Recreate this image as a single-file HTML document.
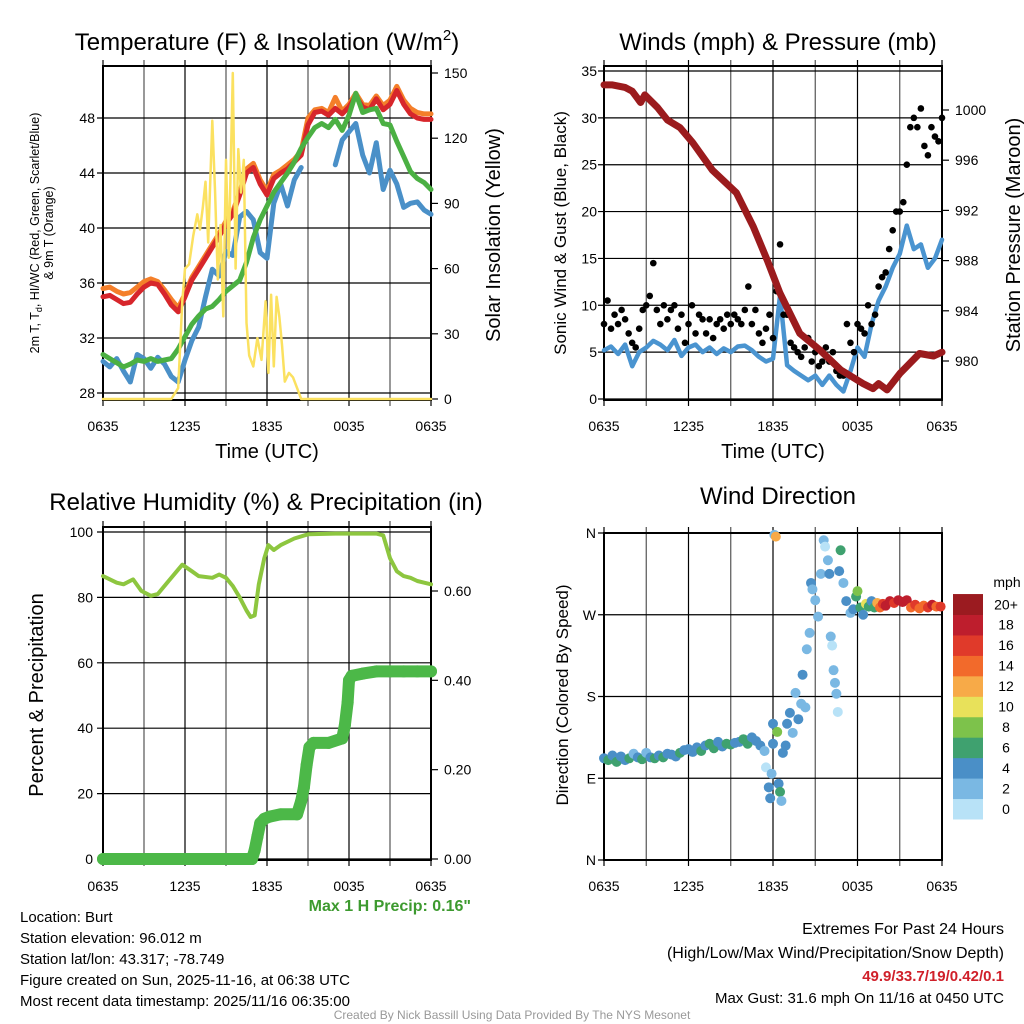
<!DOCTYPE html>
<html><head><meta charset="utf-8"><style>
body{margin:0;background:#fff}
svg{display:block;font-family:"Liberation Sans",sans-serif}
</style></head><body>
<svg id="fig" width="1024" height="1024" viewBox="0 0 1024 1024">
<g id="g1"></g>
<g id="g2"></g>
<g id="g3"></g>
<g id="g4"></g>
<g font-size="24" text-anchor="middle">
<text x="267" y="50">Temperature (F) &amp; Insolation (W/m<tspan font-size="15" dy="-10">2</tspan><tspan dy="10">)</tspan></text>
<text x="778" y="50">Winds (mph) &amp; Pressure (mb)</text>
<text x="266" y="510">Relative Humidity (%) &amp; Precipitation (in)</text>
<text x="778" y="504">Wind Direction</text>
</g>
<g font-size="20" text-anchor="middle">
<text x="267" y="458">Time (UTC)</text>
<text x="773" y="458">Time (UTC)</text>
<text transform="translate(500,235) rotate(-90)">Solar Insolation (Yellow)</text>
<text transform="translate(1020,235) rotate(-90)">Station Pressure (Maroon)</text>
<text transform="translate(43,695) rotate(-90)">Percent &amp; Precipitation</text>
</g>
<g font-size="17" text-anchor="middle">
<text transform="translate(566,233) rotate(-90)">Sonic Wind &amp; Gust (Blue, Black)</text>
<text transform="translate(568,695) rotate(-90)">Direction (Colored By Speed)</text>
</g>
<g font-size="12.5" text-anchor="middle">
<text transform="translate(39,233) rotate(-90)">2m T, T<tspan font-size="9" dy="3">d</tspan><tspan dy="-3">, HI/WC (Red, Green, Scarlet/Blue)</tspan></text>
<text transform="translate(53,233) rotate(-90)">&amp; 9m T (Orange)</text>
</g>
<text x="471" y="911" font-size="16" font-weight="bold" fill="#3d9a2f" text-anchor="end">Max 1 H Precip: 0.16"</text>
<g font-size="15">
<text x="20" y="922">Location: Burt</text>
<text x="20" y="943">Station elevation: 96.012 m</text>
<text x="20" y="964">Station lat/lon: 43.317; -78.749</text>
<text x="20" y="985">Figure created on Sun, 2025-11-16, at 06:38 UTC</text>
<text x="20" y="1006">Most recent data timestamp: 2025/11/16 06:35:00</text>
</g>
<g font-size="16" text-anchor="end">
<text x="1004" y="934">Extremes For Past 24 Hours</text>
<text x="1004" y="958">(High/Low/Max Wind/Precipitation/Snow Depth)</text>
<text x="1004" y="981" font-weight="bold" font-size="15" fill="#d0202a">49.9/33.7/19/0.42/0.1</text>
<text x="1004" y="1003" font-size="15">Max Gust: 31.6 mph On 11/16 at 0450 UTC</text>
</g>
<text x="512" y="1019" font-size="12" fill="#999" text-anchor="middle">Created By Nick Bassill Using Data Provided By The NYS Mesonet</text>
</svg>
<script>
const xTickLabels=["0635","1235","1835","0035","0635"];
const tRed=[35.0,35.1,34.8,34.5,34.6,35.2,35.7,36.0,35.9,35.2,34.4,33.9,35.0,36.2,37.0,37.8,38.6,39.4,40.3,41.0,42.4,44.0,44.4,43.2,42.4,43.6,44.0,44.3,44.8,45.3,47.5,48.4,48.5,48.2,48.7,48.3,48.8,49.6,48.8,48.6,49.4,48.6,49.0,50.0,49.0,48.3,48.0,47.9,47.9];
const tOrange=[35.6,35.7,35.4,35.2,35.3,35.7,36.1,36.3,36.1,35.5,34.8,34.2,35.2,36.4,37.2,38.0,38.8,39.6,40.5,41.2,42.6,44.3,44.7,43.5,42.7,43.9,44.2,44.6,45.0,45.6,48.0,48.6,48.7,48.4,49.5,48.5,49.0,49.8,49.0,48.9,49.6,48.9,49.3,50.3,49.3,48.7,48.4,48.3,48.3];
const tGreen=[30.8,30.5,30.2,29.9,30.1,30.4,30.3,30.5,30.3,30.4,30.5,31.2,32.1,33.0,33.6,34.1,34.3,34.8,35.4,35.8,36.2,37.5,39.3,40.6,41.6,42.6,43.3,44.0,44.8,45.8,46.6,47.3,47.6,47.3,47.9,47.1,48.2,49.8,48.4,48.6,48.7,47.6,47.5,46.3,45.2,44.1,43.6,43.3,42.8];
const tBlue=[30.3,29.9,30.5,29.6,28.8,30.8,30.5,29.8,30.6,30.1,29.2,28.8,30.4,31.8,32.8,35.0,37.0,36.5,38.3,38.0,40.8,41.2,40.6,38.2,37.8,41.8,43.2,41.6,43.5,44.4,null,null,null,null,44.6,46.4,47.0,47.6,45.3,44.0,46.2,42.8,44.2,43.2,41.5,41.8,41.9,41.3,41.0];
const solarHours=[0,5.0,5.5,5.8,6.0,6.3,6.6,6.9,7.1,7.3,7.5,7.7,8.0,8.2,8.4,8.6,8.8,9.0,9.2,9.5,9.7,9.9,10.1,10.3,10.5,10.7,11.0,11.3,11.6,11.9,12.1,12.3,12.5,12.7,12.9,13.1,13.3,13.6,13.9,14.2,14.5,24];
const solarVals=[0,0,5,45,60,62,75,85,78,88,100,72,128,95,55,80,38,110,65,150,60,115,95,110,35,20,15,28,18,45,12,48,15,47,38,25,8,12,10,5,0,0];
const windBlue=[5.2,5.6,4.8,5.8,3.5,5.0,5.5,6.2,5.8,5.2,6.3,4.6,5.5,5.8,5.0,5.5,4.8,5.4,5.0,5.6,5.7,5.2,4.5,4.0,4.3,11.0,3.6,3.0,2.5,2.0,2.5,1.5,2.5,1.5,0.8,3.0,5.5,4.5,8.0,10.5,12.0,14.0,15.5,18.5,16.0,16.5,14.0,15.0,17.0];
const gustVals=[8,10.5,7.5,9,8,9.5,8.5,7,6,5.5,7.5,9.5,10,11,14.5,9.5,8,10,8.5,9.5,10,7.5,9,6,8,10,7,9,8.5,7,8.5,6.5,8,8.5,7.5,9,8,9,8.5,8,9.5,12,8,9.5,7,6,7.5,9,6.5,11.5,16.5,9,9,6,5.5,5,4.5,5.5,6.5,4,5,3.5,4,5.5,4,5,3,2.5,2.5,8,6,5,8,7.5,7,10,8,9,12,13,13.5,16,18,20,20,21,25,29,30,29,31,27,26,29,28,27.5,30];
const presHours=[0,0.6,1.5,2.0,2.6,2.9,3.8,4.5,5.4,6.3,7.7,9.4,10.6,11.6,12.5,13.9,15.3,16.8,18.4,19.1,19.5,20.1,21,22.4,23.4,24];
const presVals=[1002.0,1002.0,1001.8,1001.5,1000.6,1001.2,1000.2,999.2,998.6,997.4,995.2,993.4,990.7,988.0,985.4,982.2,980.9,979.3,978.2,977.8,978.2,977.7,979.0,980.6,980.4,980.7];
const rhHours=[0,1,1.5,2.2,2.8,3.5,4,4.8,5.5,5.8,6.5,7,8,8.5,9,9.5,10,10.5,10.8,11.1,11.4,11.8,12.1,12.5,13,14,15,17,20,20.5,21,21.5,22,22.5,23,23.5,24];
const rhVals=[86.5,84.5,84,85.5,82,80.5,81,85,88.5,90,88,86.5,86,87,86,83.5,80,76,74,74.5,84,92,96,94.5,96,98,99.3,99.5,99.5,99,92,88,86.5,86,85,84.5,84];
const precipHours=[0,10.9,11.1,11.3,11.5,11.8,12.2,13,14.2,14.5,14.7,14.9,15.1,15.4,16.5,17.5,17.7,17.9,18.0,18.2,19,20,21,22,23,24];
const precipVals=[0,0,0.02,0.05,0.08,0.09,0.095,0.10,0.10,0.13,0.16,0.21,0.25,0.26,0.26,0.27,0.30,0.35,0.40,0.41,0.415,0.42,0.42,0.42,0.42,0.42];
const dirHours=[0,0.3,0.6,0.9,1.2,1.5,1.8,2.1,2.4,2.7,3.0,3.3,3.6,3.9,4.2,4.5,4.8,5.1,5.4,5.7,6.0,6.3,6.6,6.9,7.2,7.5,7.8,8.1,8.4,8.7,9.0,9.3,9.6,9.9,10.2,10.5,10.8,11.1,11.4,
11.5,11.7,11.8,11.9,12.0,12.0,12.1,12.2,12.3,12.4,12.5,12.6,12.7,12.9,13.0,13.2,13.4,13.6,13.8,14.0,14.1,14.3,14.4,14.6,14.7,14.8,15.0,15.2,15.4,15.6,15.7,15.9,16.0,16.1,16.2,16.3,16.4,16.5,16.6,16.7,16.8,17.0,17.2,17.5,17.7,17.9,18.0,18.2,18.4,18.6,18.8,19.0,19.2,19.4,19.6,19.8,20.0,20.3,20.6,20.9,21.2,21.5,21.8,22.1,22.4,22.7,23.0,23.3,23.6,23.9];
const dirDeg=[112,110,115,108,114,110,112,117,113,111,118,113,112,115,113,117,116,114,118,121,122,119,124,120,126,128,123,130,125,128,127,129,130,133,128,135,131,126,120,
102,80,68,95,150,128,358,356,141,84,75,65,118,126,150,162,140,184,155,172,204,168,232,250,305,298,286,268,315,352,345,330,315,246,236,209,195,183,163,318,341,305,285,272,276,290,296,278,270,282,279,285,278,283,278,282,280,285,283,286,284,286,278,281,277,280,278,281,279,279];
const dirSpd=[4.5,6.5,4.5,6.5,4.5,4.5,6.5,2.5,4.5,6.5,2.5,4.5,6.5,4.5,6.5,4.5,4.5,4.5,6.5,4.5,4.5,4.5,4.5,6.5,4.5,6.5,6.5,4.5,4.5,6.5,6.5,4.5,4.5,6.5,6.5,4.5,4.5,4.5,2.5,
1,4.5,4.5,2.5,4.5,4.5,2.5,12.5,8.5,4.5,6.5,2.5,4.5,4.5,4.5,4.5,2.5,2.5,4.5,2.5,4.5,2.5,2.5,2.5,4.5,2.5,2.5,2.5,2.5,2.5,1,2.5,4.5,2.5,1,2.5,2.5,2.5,1,4.5,6.5,2.5,4.5,2.5,4.5,6.5,8.5,6.5,4.5,10.5,6.5,4.5,6.5,12.5,14.5,16.5,18.5,18.5,16.5,18.5,18.5,18.5,14.5,16.5,14.5,14.5,16.5,18.5,14.5,16.5];
const speedLabels=["0","2","4","6","8","10","12","14","16","18","20+"];
const speedColors=["#b8e2f7","#7ab8e3","#4a8fc7","#3fa16f","#7dc24b","#e8e15a","#f7aa48","#f26a2b","#e03a2a","#be1e2d","#9b1b20"];

const NS="http://www.w3.org/2000/svg";
function el(tag,attrs,parent){const e=document.createElementNS(NS,tag);for(const k in attrs)e.setAttribute(k,attrs[k]);parent.appendChild(e);return e;}
function lin(d0,d1,r0,r1){return v=>r0+(v-d0)*(r1-r0)/(d1-d0);}
function pathFrom(xs,ys,fx,fy){let d="",pen=false;for(let i=0;i<xs.length;i++){if(ys[i]==null){pen=false;continue;}d+=(pen?"L":"M")+fx(xs[i]).toFixed(1)+","+fy(ys[i]).toFixed(1);pen=true;}return d;}
const halfHours=tRed.map((_,i)=>i*0.5);
const qHours=gustVals.map((_,i)=>i*0.25);

function frame(g,x0,x1,y0,y1,hTicks,fy,labels,lx,anchor){
  const fx=lin(0,24,x0,x1);
  for(let h=0;h<=24;h+=3){const gl=el("line",{x1:fx(h),x2:fx(h),y1:y0-6,y2:y1+6,stroke:(h%6==0)?"#000":"#555","stroke-width":1.2},g);
    }
  hTicks.forEach((v,i)=>{const y=fy(v);const gl=el("line",{x1:x0-6,x2:x1,y1:y,y2:y,stroke:"#000","stroke-width":1.2},g);
    
    const t=el("text",{x:lx,y:y+5,"font-size":14,"text-anchor":anchor},g);t.textContent=labels[i];
    });
  xTickLabels.forEach((s,i)=>{const t=el("text",{x:fx(i*6),y:y1+31,"font-size":14,"text-anchor":"middle"},g);t.textContent=s;
    });
  const r=el("rect",{x:x0,y:y0,width:x1-x0,height:y1-y0,fill:"none",stroke:"#000","stroke-width":2},g);
  
  return fx;
}
function rightAxis(g,x1,vals,fy,labels){
  vals.forEach((v,i)=>{const y=fy(v);el("line",{x1:x1,x2:x1+7,y1:y,y2:y,stroke:"#000","stroke-width":1.2},g);
    const t=el("text",{x:x1+13,y:y+5,"font-size":14},g);t.textContent=labels[i];
    });
}
function line(g,xs,ys,fx,fy,color,w,name){const p=el("path",{d:pathFrom(xs,ys,fx,fy),fill:"none",stroke:color,"stroke-width":w,"stroke-linejoin":"round","stroke-linecap":"round"},g);
  return p;}

// Panel 1
(function(){const g=document.getElementById("g1");
  const fy=lin(28,48,393,118);const sy=lin(0,150,399,73);
  const fx=frame(g,103,431,66,400,[28,32,36,40,44,48],fy,["28","32","36","40","44","48"],95,"end");
  rightAxis(g,431,[0,30,60,90,120,150],sy,["0","30","60","90","120","150"]);
  line(g,halfHours,tOrange,fx,fy,"#f47f2a",5,"orange-9m-temp-line");
  line(g,halfHours,tRed,fx,fy,"#d7262b",5,"red-2m-temp-line");
  line(g,halfHours,tBlue,fx,fy,"#4a90c8",5,"blue-dewpoint-line");
  line(g,halfHours,tGreen,fx,fy,"#4bb043",5,"green-hi-wc-line");
  line(g,solarHours,solarVals,fx,sy,"#fbe160",2.5,"yellow-solar-line");
})();
// Panel 2
(function(){const g=document.getElementById("g2");
  const fy=lin(0,35,399,71);const py=lin(980,1000,361,110);
  const fx=frame(g,604,942,66,400,[0,5,10,15,20,25,30,35],fy,["0","5","10","15","20","25","30","35"],597,"end");
  rightAxis(g,942,[980,984,988,992,996,1000],py,["980","984","988","992","996","1000"]);
  line(g,halfHours,windBlue,fx,fy,"#4a94d0",4.5,"blue-wind-line");
  gustVals.forEach((v,i)=>{const c=el("circle",{cx:fx(qHours[i]),cy:fy(v),r:3.3,fill:"#000"},g);
    });
  line(g,presHours,presVals,fx,py,"#9b1b1d",7,"maroon-pressure-line");
})();
// Panel 3
(function(){const g=document.getElementById("g3");
  const fy=lin(0,100,859,532);const iy=lin(0,0.6,859,591);
  const fx=frame(g,103,431,527,860,[0,20,40,60,80,100],fy,["0","20","40","60","80","100"],93,"end");
  rightAxis(g,431,[0,0.2,0.4,0.6],iy,["0.00","0.20","0.40","0.60"]);
  line(g,rhHours,rhVals,fx,fy,"#8dc63f",4,"rh-line");
  line(g,precipHours,precipVals,fx,iy,"#4cb848",12,"precip-line");
  precipHours.forEach((h,i)=>{const c=el("circle",{cx:fx(h),cy:iy(precipVals[i]),r:6,fill:"#4cb848"},g);
    });
})();
// Panel 4
(function(){const g=document.getElementById("g4");
  const fy=lin(0,360,860,533);
  const fx=frame(g,604,942,533,860,[0,90,180,270,360],fy,["N","E","S","W","N"],596,"end");
  dirHours.forEach((h,i)=>{const b=Math.min(10,Math.floor(dirSpd[i]/2));
    const c=el("circle",{cx:fx(h),cy:fy(dirDeg[i]),r:5,fill:speedColors[b]},g);
    });
  const cb=el("g",{},g);
  const bh=20.45;
  speedLabels.forEach((s,i)=>{const y=819-(i+1)*bh;
    const r=el("rect",{x:953,y:y,width:30,height:bh+0.5,fill:speedColors[i]},cb);
    
    const t=el("text",{x:1006,y:y+bh/2+5,"font-size":14,"text-anchor":"middle"},cb);t.textContent=s;
    });
  const t=el("text",{x:1007,y:587,"font-size":14,"text-anchor":"middle"},cb);t.textContent="mph";
  
})();
</script>
</body></html>
